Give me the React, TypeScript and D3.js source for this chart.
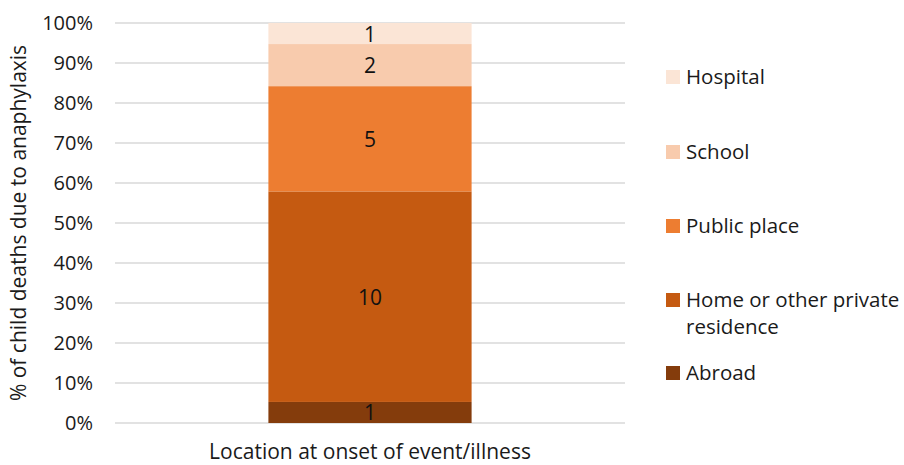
import React, { useEffect, useRef } from 'react';
import * as d3 from 'd3';

// Data
const categories = ['Location at onset of event/illness'];
const series = ['Abroad', 'Home or other private residence', 'Public place', 'School', 'Hospital'];
const counts = [1, 10, 5, 2, 1];
const colors = ['#843C0C', '#C55A11', '#ED7D31', '#F8CBAD', '#FBE5D6'];
const yTicks = [0, 0.1, 0.2, 0.3, 0.4, 0.5, 0.6, 0.7, 0.8, 0.9, 1];
const yTitle = '% of child deaths due to anaphylaxis';

const FONT = '"Open Sans", "Noto Sans", sans-serif';

function App() {
    const svgRef = useRef<SVGSVGElement>(null);

    useEffect(() => {
        const svg = d3.select(svgRef.current);
        svg.selectAll('*').remove();

        const left = 115, right = 625, top = 23, bottom = 423;

        const x = d3.scaleBand().domain(categories).range([left, right]).paddingInner(0).paddingOuter(0.755);
        const y = d3.scaleLinear().domain([0, 1]).range([bottom, top]);

        const total = d3.sum(counts);
        const row: any = {};
        series.forEach((s, i) => { row[s] = counts[i] / total; });
        const stacked = d3.stack().keys(series)([row]);

        // gridlines
        svg.append('g')
            .selectAll('line')
            .data(yTicks)
            .join('line')
            .attr('x1', left).attr('x2', right)
            .attr('y1', d => y(d)).attr('y2', d => y(d))
            .attr('stroke', '#D9D9D9').attr('stroke-width', 1.3);

        // y tick labels
        svg.append('g')
            .selectAll('text')
            .data(yTicks)
            .join('text')
            .attr('x', 93).attr('y', d => y(d))
            .attr('dy', '0.36em')
            .attr('text-anchor', 'end')
            .attr('font-family', FONT).attr('font-size', 20)
            .attr('fill', '#1a1a1a')
            .text(d => d3.format('.0%')(d));

        // bars
        const bw = x.bandwidth();
        const x0 = x(categories[0])!;
        const cx = x0 + bw / 2;
        const g = svg.append('g');
        stacked.forEach((layer, i) => {
            const d = layer[0];
            g.append('rect')
                .attr('x', x0).attr('width', bw)
                .attr('y', y(d[1])).attr('height', y(d[0]) - y(d[1]))
                .attr('fill', colors[i]);
            g.append('text')
                .attr('x', cx).attr('y', (y(d[0]) + y(d[1])) / 2)
                .attr('dy', '0.38em')
                .attr('text-anchor', 'middle')
                .attr('font-family', FONT).attr('font-size', 21)
                .attr('fill', '#111')
                .text(counts[i]);
        });

        // x category label
        svg.append('text')
            .attr('x', cx).attr('y', 459)
            .attr('text-anchor', 'middle')
            .attr('font-family', FONT).attr('font-size', 21)
            .attr('fill', '#1a1a1a')
            .text(categories[0]);

        // y title
        svg.append('text')
            .attr('transform', `translate(26,${(top + bottom) / 2}) rotate(-90)`)
            .attr('text-anchor', 'middle')
            .attr('font-family', FONT).attr('font-size', 21)
            .attr('fill', '#1a1a1a')
            .text(yTitle);

        // legend (top to bottom: reverse order)
        const legendY = [77, 152, 226, 300, 373];
        const legendOrder = series.map((s, i) => i).reverse();
        legendOrder.forEach((si, k) => {
            const ly = legendY[k];
            svg.append('rect')
                .attr('x', 666).attr('y', ly - 7).attr('width', 14).attr('height', 14)
                .attr('fill', colors[si]);
            const t = svg.append('text')
                .attr('x', 686).attr('y', ly)
                .attr('dy', '0.36em')
                .attr('font-family', FONT).attr('font-size', 20.5)
                .attr('fill', '#1a1a1a');
            if (series[si] === 'Home or other private residence') {
                t.append('tspan').attr('x', 686).text('Home or other private');
                t.append('tspan').attr('x', 686).attr('dy', '1.32em').text('residence');
            } else {
                t.text(series[si]);
            }
        });
    }, []);

    return (
        <svg ref={svgRef} width={904} height={465} style={{ position: 'absolute', left: 0, top: 0 }} />
    );
}

export default App;
